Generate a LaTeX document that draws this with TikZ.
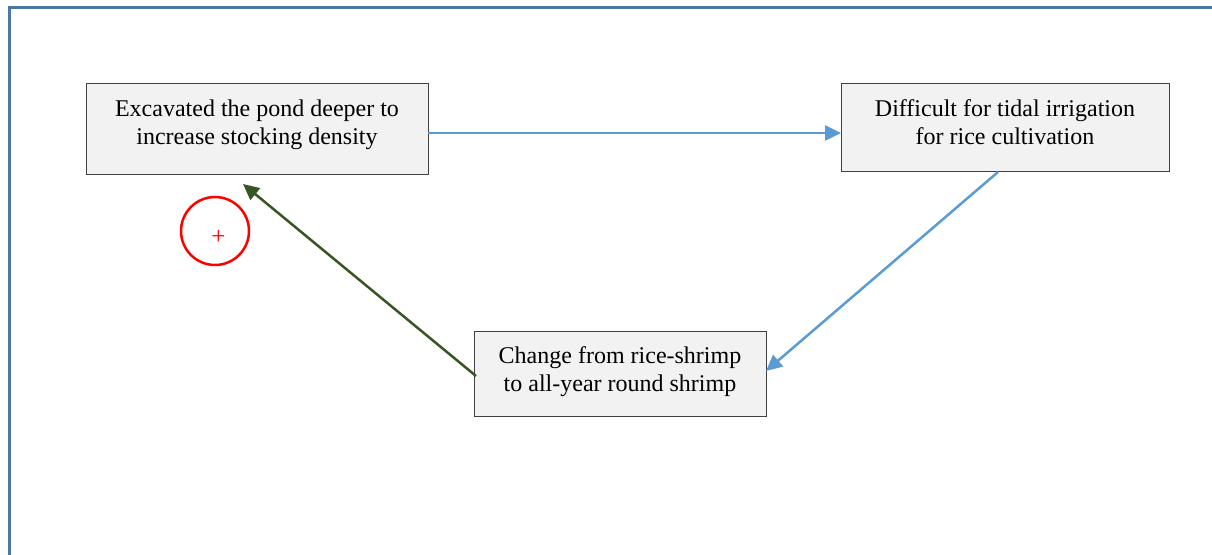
\documentclass[tikz,border=0pt]{standalone}
\usepackage{fontspec}
\setmainfont{Liberation Serif}
\usetikzlibrary{arrows.meta}
\definecolor{framec}{HTML}{4A76A8}
\definecolor{boxfill}{HTML}{F2F2F2}
\definecolor{boxline}{HTML}{404040}
\definecolor{bluearr}{HTML}{5B9BD5}
\definecolor{greenarr}{HTML}{375623}
\tikzset{
  box/.style={draw=boxline, fill=boxfill, line width=1pt, inner sep=0pt},
  boxtext/.style={align=center, inner sep=0pt, font=\fontsize{24pt}{28pt}\selectfont},
  bluecon/.style={draw=bluearr, line width=2.5pt, -{Triangle[length=16pt,width=15pt]}},
  greencon/.style={draw=greenarr, line width=2.5pt, -{Triangle[length=16pt,width=15pt]}},
}
\begin{document}
\begin{tikzpicture}[x=1pt,y=1pt]
\useasboundingbox (0,0) rectangle (1212,554);
\fill[white] (0,0) rectangle (1212,554);
\draw[framec, line width=3pt] (9,-5) -- (9,546) -- (1220,546);
\node[box, minimum width=342pt, minimum height=91pt] (a) at (257,424.5) {};
\node[boxtext] (at) at (257,429.5) {Excavated the pond deeper to\\increase stocking density};
\node[box, minimum width=328pt, minimum height=88pt] (b) at (1005,426) {};
\node[boxtext] (bt) at (1005,432) {Difficult for tidal irrigation\\for rice cultivation};
\node[box, minimum width=292pt, minimum height=85pt] (c) at (620,179.5) {};
\node[boxtext] (ct) at (620,182) {Change from rice-shrimp\\to all-year round shrimp};
\coordinate (a1) at (428,421);
\coordinate (b1) at (841,421);
\coordinate (b2) at (998,382);
\coordinate (c1) at (766,183);
\coordinate (c2) at (476,178);
\coordinate (a2) at (243,370);
\draw[bluecon] (a1) -- (b1);
\draw[bluecon] (b2) -- (c1);
\draw[greencon] (c2) -- (a2);
\node[draw=red, line width=2.5pt, circle, minimum size=68pt, inner sep=0pt] (circ) at (215,323) {};
\node[text=red, font=\fontsize{25pt}{25pt}\selectfont, inner sep=0pt] (plus) at (218.5,317) {+};
\end{tikzpicture}
\end{document}
